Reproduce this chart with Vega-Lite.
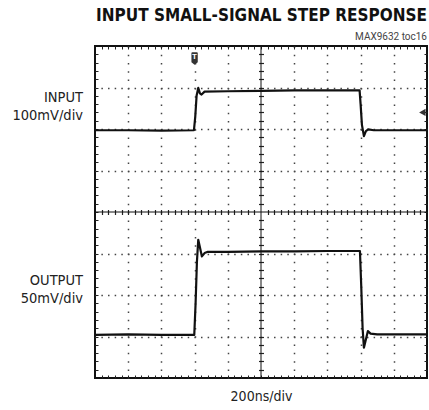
{
  "$schema": "https://vega.github.io/schema/vega-lite/v6.json",
  "width": 332,
  "height": 332,
  "autosize": "none",
  "padding": {"left": 95, "top": 46, "right": 2, "bottom": 32},
  "background": "white",
  "config": {
    "view": {"stroke": "#111", "strokeWidth": 2},
    "font": "Roboto"
  },
  "title": {
    "text": "INPUT SMALL-SIGNAL STEP RESPONSE",
    "subtitle": "MAX9632 toc16",
    "anchor": "end",
    "frame": "group",
    "font": "DejaVu Sans Condensed, Roboto",
    "fontSize": 17,
    "fontWeight": "bold",
    "color": "#111",
    "subtitleFont": "Roboto",
    "subtitleFontSize": 10,
    "subtitleColor": "#444",
    "subtitlePadding": 7,
    "offset": 3
  },
  "datasets": {
    "traces": [
      {"series": "INPUT", "t": 0, "v": 1.97},
      {"series": "INPUT", "t": 1, "v": 1.97},
      {"series": "INPUT", "t": 2, "v": 1.96},
      {"series": "INPUT", "t": 2.98, "v": 1.97},
      {"series": "INPUT", "t": 3.02, "v": 2.3},
      {"series": "INPUT", "t": 3.06, "v": 2.8},
      {"series": "INPUT", "t": 3.11, "v": 2.99},
      {"series": "INPUT", "t": 3.16, "v": 2.86},
      {"series": "INPUT", "t": 3.21, "v": 2.83},
      {"series": "INPUT", "t": 3.3, "v": 2.9},
      {"series": "INPUT", "t": 4, "v": 2.91},
      {"series": "INPUT", "t": 5, "v": 2.92},
      {"series": "INPUT", "t": 6, "v": 2.93},
      {"series": "INPUT", "t": 7, "v": 2.93},
      {"series": "INPUT", "t": 7.97, "v": 2.93},
      {"series": "INPUT", "t": 8.0, "v": 2.6},
      {"series": "INPUT", "t": 8.04, "v": 2.1},
      {"series": "INPUT", "t": 8.1, "v": 1.83},
      {"series": "INPUT", "t": 8.16, "v": 1.95},
      {"series": "INPUT", "t": 8.23, "v": 1.99},
      {"series": "INPUT", "t": 8.4, "v": 1.97},
      {"series": "INPUT", "t": 9, "v": 1.97},
      {"series": "INPUT", "t": 10, "v": 1.97},
      {"series": "OUTPUT", "t": 0, "v": -2.96},
      {"series": "OUTPUT", "t": 1, "v": -2.95},
      {"series": "OUTPUT", "t": 2, "v": -2.96},
      {"series": "OUTPUT", "t": 2.99, "v": -2.96},
      {"series": "OUTPUT", "t": 3.03, "v": -2.2},
      {"series": "OUTPUT", "t": 3.07, "v": -1.2},
      {"series": "OUTPUT", "t": 3.11, "v": -0.67},
      {"series": "OUTPUT", "t": 3.16, "v": -0.85},
      {"series": "OUTPUT", "t": 3.22, "v": -1.07},
      {"series": "OUTPUT", "t": 3.3, "v": -0.99},
      {"series": "OUTPUT", "t": 3.4, "v": -0.96},
      {"series": "OUTPUT", "t": 4, "v": -0.96},
      {"series": "OUTPUT", "t": 5, "v": -0.95},
      {"series": "OUTPUT", "t": 6, "v": -0.95},
      {"series": "OUTPUT", "t": 7, "v": -0.94},
      {"series": "OUTPUT", "t": 7.98, "v": -0.94},
      {"series": "OUTPUT", "t": 8.02, "v": -1.8},
      {"series": "OUTPUT", "t": 8.06, "v": -2.8},
      {"series": "OUTPUT", "t": 8.1, "v": -3.27},
      {"series": "OUTPUT", "t": 8.15, "v": -3.1},
      {"series": "OUTPUT", "t": 8.22, "v": -2.87},
      {"series": "OUTPUT", "t": 8.3, "v": -2.93},
      {"series": "OUTPUT", "t": 8.5, "v": -2.95},
      {"series": "OUTPUT", "t": 9, "v": -2.95},
      {"series": "OUTPUT", "t": 10, "v": -2.95}
    ],
    "markers": [
      {"kind": "trigger", "t": 3.0, "v": 3.7},
      {"kind": "level", "t": 9.86, "v": 2.4}
    ],
    "labels": [
      {"name": "INPUT", "scale": "100mV/div", "v": 2.55},
      {"name": "OUTPUT", "scale": "50mV/div", "v": -1.86}
    ]
  },
  "resolve": {
    "scale": {"x": "independent", "y": "independent"},
    "axis": {"x": "independent", "y": "independent"}
  },
  "layer": [
    {
      "data": {"name": "traces"},
      "mark": {"type": "line", "color": "#111", "strokeWidth": 2.2, "strokeJoin": "round"},
      "encoding": {
        "x": {
          "field": "t", "type": "quantitative",
          "scale": {"domain": [0, 10], "nice": false, "zero": false},
          "axis": {
            "values": [1, 2, 3, 4, 6, 7, 8, 9],
            "grid": true, "gridDash": [1.5, 6.78], "gridColor": "#444", "gridWidth": 1.5,
            "domain": false, "ticks": false, "labels": false,
            "title": "200ns/div", "titleFont": "DejaVu Sans Condensed, Roboto", "titleFontSize": 14,
            "titleFontWeight": "normal", "titleColor": "#222", "titlePadding": 11
          }
        },
        "y": {
          "field": "v", "type": "quantitative",
          "scale": {"domain": [-4, 4], "nice": false, "zero": false},
          "axis": {
            "values": [-3, -2, -1, 1, 2, 3],
            "grid": true, "gridDash": [1.5, 5.14], "gridDashOffset": 0.75, "gridColor": "#444", "gridWidth": 1.5,
            "domain": false, "ticks": false, "labels": false, "title": null
          }
        },
        "detail": {"field": "series", "type": "nominal"}
      }
    },
    {
      "data": {"values": [{}]},
      "mark": {"type": "rule", "color": "#111", "strokeWidth": 1},
      "encoding": {
        "x": {
          "datum": 5, "type": "quantitative",
          "scale": {"domain": [0, 10], "nice": false, "zero": false},
          "axis": {
            "orient": "bottom",
            "values": [0.2,0.4,0.6,0.8,1,1.2,1.4,1.6,1.8,2,2.2,2.4,2.6,2.8,3,3.2,3.4,3.6,3.8,4,4.2,4.4,4.6,4.8,5,5.2,5.4,5.6,5.8,6,6.2,6.4,6.6,6.8,7,7.2,7.4,7.6,7.8,8,8.2,8.4,8.6,8.8,9,9.2,9.4,9.6,9.8],
            "tickSize": -3, "tickColor": "#222", "tickWidth": 1,
            "domain": false, "labels": false, "grid": false, "title": null
          }
        },
        "y": {
          "datum": -4, "type": "quantitative",
          "scale": {"domain": [-4, 4], "nice": false, "zero": false},
          "axis": {
            "orient": "left", "offset": -168.5,
            "values": [-3.8,-3.6,-3.4,-3.2,-3,-2.8,-2.6,-2.4,-2.2,-2,-1.8,-1.6,-1.4,-1.2,-1,-0.8,-0.6,-0.4,-0.2,0.2,0.4,0.6,0.8,1,1.2,1.4,1.6,1.8,2,2.2,2.4,2.6,2.8,3,3.2,3.4,3.6,3.8],
            "tickSize": 5, "tickColor": "#222", "tickWidth": 1.2,
            "domain": false, "labels": false, "grid": false, "title": null
          }
        },
        "y2": {"datum": 4}
      }
    },
    {
      "data": {"values": [{}]},
      "mark": {"type": "rule", "color": "#111", "strokeWidth": 1},
      "encoding": {
        "y": {
          "datum": 0, "type": "quantitative",
          "scale": {"domain": [-4, 4], "nice": false, "zero": false},
          "axis": {
            "orient": "left",
            "values": [-3.8,-3.6,-3.4,-3.2,-3,-2.8,-2.6,-2.4,-2.2,-2,-1.8,-1.6,-1.4,-1.2,-1,-0.8,-0.6,-0.4,-0.2,0,0.2,0.4,0.6,0.8,1,1.2,1.4,1.6,1.8,2,2.2,2.4,2.6,2.8,3,3.2,3.4,3.6,3.8],
            "tickSize": -3, "tickColor": "#222", "tickWidth": 1,
            "domain": false, "labels": false, "grid": false, "title": null
          }
        },
        "x": {
          "datum": 0, "type": "quantitative",
          "scale": {"domain": [0, 10], "nice": false, "zero": false},
          "axis": {
            "orient": "bottom", "offset": -168.5,
            "values": [0.2,0.4,0.6,0.8,1,1.2,1.4,1.6,1.8,2,2.2,2.4,2.6,2.8,3,3.2,3.4,3.6,3.8,4,4.2,4.4,4.6,4.8,5.2,5.4,5.6,5.8,6,6.2,6.4,6.6,6.8,7,7.2,7.4,7.6,7.8,8,8.2,8.4,8.6,8.8,9,9.2,9.4,9.6,9.8],
            "tickSize": 5, "tickColor": "#222", "tickWidth": 1.2,
            "domain": false, "labels": false, "grid": false, "title": null
          }
        },
        "x2": {"datum": 10}
      }
    },
    {
      "data": {"name": "markers"},
      "mark": {"type": "point", "filled": true, "opacity": 1, "color": "#333"},
      "encoding": {
        "x": {
          "field": "t", "type": "quantitative",
          "scale": {"domain": [0, 10], "nice": false, "zero": false},
          "axis": {
            "orient": "top",
            "values": [0.2,0.4,0.6,0.8,1,1.2,1.4,1.6,1.8,2,2.2,2.4,2.6,2.8,3,3.2,3.4,3.6,3.8,4,4.2,4.4,4.6,4.8,5,5.2,5.4,5.6,5.8,6,6.2,6.4,6.6,6.8,7,7.2,7.4,7.6,7.8,8,8.2,8.4,8.6,8.8,9,9.2,9.4,9.6,9.8],
            "tickSize": -3, "tickColor": "#222", "tickWidth": 1,
            "domain": false, "labels": false, "grid": false, "title": null
          }
        },
        "y": {
          "field": "v", "type": "quantitative",
          "scale": {"domain": [-4, 4], "nice": false, "zero": false},
          "axis": {
            "orient": "right",
            "values": [-3.8,-3.6,-3.4,-3.2,-3,-2.8,-2.6,-2.4,-2.2,-2,-1.8,-1.6,-1.4,-1.2,-1,-0.8,-0.6,-0.4,-0.2,0,0.2,0.4,0.6,0.8,1,1.2,1.4,1.6,1.8,2,2.2,2.4,2.6,2.8,3,3.2,3.4,3.6,3.8],
            "tickSize": -3, "tickColor": "#222", "tickWidth": 1,
            "domain": false, "labels": false, "grid": false, "title": null
          }
        },
        "shape": {
          "field": "kind", "type": "nominal",
          "scale": {"domain": ["trigger", "level"], "range": ["M-0.5,-0.85 Q-0.5,-1 -0.35,-1 L0.35,-1 Q0.5,-1 0.5,-0.85 L0.5,0.6 L0,1 L-0.5,0.6 Z", "triangle-left"]},
          "legend": null
        },
        "size": {
          "field": "kind", "type": "nominal",
          "scale": {"domain": ["trigger", "level"], "range": [160, 55]},
          "legend": null
        }
      }
    },
    {
      "data": {"name": "markers"},
      "transform": [{"filter": "datum.kind === 'trigger'"}],
      "mark": {"type": "text", "text": "T", "color": "white", "fontSize": 8, "fontWeight": "bold", "dy": -1, "baseline": "middle", "align": "center"},
      "encoding": {
        "x": {"field": "t", "type": "quantitative", "scale": {"domain": [0, 10], "nice": false, "zero": false}, "axis": null},
        "y": {"field": "v", "type": "quantitative", "scale": {"domain": [-4, 4], "nice": false, "zero": false}, "axis": null}
      }
    },
    {
      "data": {"name": "labels"},
      "mark": {"type": "text", "align": "right", "baseline": "middle", "dx": -12, "dy": -8, "font": "DejaVu Sans Condensed, Roboto", "fontSize": 14.5, "color": "#222"},
      "encoding": {
        "x": {"datum": 0, "type": "quantitative", "scale": {"domain": [0, 10], "nice": false, "zero": false}, "axis": null},
        "y": {"field": "v", "type": "quantitative", "scale": {"domain": [-4, 4], "nice": false, "zero": false}, "axis": null},
        "text": {"field": "name", "type": "nominal"}
      }
    },
    {
      "data": {"name": "labels"},
      "mark": {"type": "text", "align": "right", "baseline": "middle", "dx": -12, "dy": 10, "font": "DejaVu Sans Condensed, Roboto", "fontSize": 14.5, "color": "#222"},
      "encoding": {
        "x": {"datum": 0, "type": "quantitative", "scale": {"domain": [0, 10], "nice": false, "zero": false}, "axis": null},
        "y": {"field": "v", "type": "quantitative", "scale": {"domain": [-4, 4], "nice": false, "zero": false}, "axis": null},
        "text": {"field": "scale", "type": "nominal"}
      }
    }
  ]
}
